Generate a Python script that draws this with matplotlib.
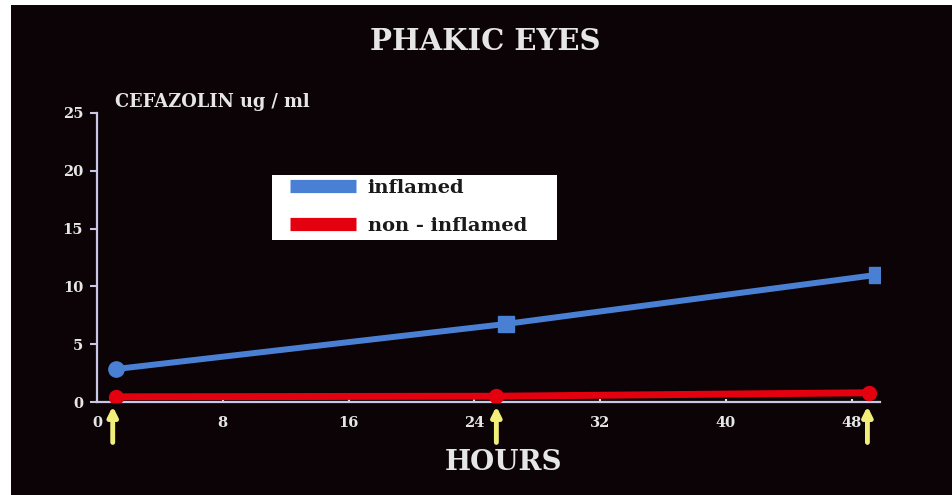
import matplotlib
matplotlib.use("Agg")
import matplotlib.pyplot as plt
from matplotlib.lines import Line2D
from matplotlib.patches import Rectangle

# data
hours_blue = [1.2, 26.0, 49.6]
inflamed = [2.85, 6.75, 11.0]
hours_red = [1.2, 25.4, 49.1]
non_inflamed = [0.45, 0.5, 0.8]
dose_hours = [1.0, 25.4, 49.0]
xticks = [0, 8, 16, 24, 32, 40, 48]
yticks = [0, 5, 10, 15, 20, 25]

blue = '#4a80d4'
red = '#e3000f'
txt = '#e6e6e6'
serif = ['DejaVu Serif']

fig = plt.figure(figsize=(9.52, 4.95), dpi=100, facecolor='white')
# black slide background with thin white border left/top
bg = Rectangle((11 / 952, 0), 1, 1 - 5 / 495, transform=fig.transFigure,
               facecolor='#0b0305', edgecolor='none', zorder=-10)
fig.add_artist(bg)

ax = fig.add_axes([97 / 952, 1 - 402 / 495, 783 / 952, 289 / 495])
ax.set_facecolor('none')

ax.plot(hours_blue, inflamed, color=blue, lw=4.3, solid_capstyle='round', zorder=3)
for x, y, m in zip(hours_blue, inflamed, ['o', 's', 's']):
    ax.plot(x, y, marker=m, ms=11, color=blue, zorder=4)
ax.plot(hours_red, non_inflamed, color=red, lw=5, solid_capstyle='round', zorder=3)
for x, y in zip(hours_red, non_inflamed):
    ax.plot(x, y, marker='o', ms=10, color=red, zorder=4)

ax.set_xlim(0, 49.8)
ax.set_ylim(0, 25)
ax.set_xticks(xticks)
ax.set_yticks(yticks)

for s in ['top', 'right']:
    ax.spines[s].set_visible(False)
for s in ['left', 'bottom']:
    ax.spines[s].set_color('#c9c6e6')
    ax.spines[s].set_linewidth(1.6)

ax.tick_params(axis='y', direction='out', length=5, width=1.5, color='#c9c6e6',
               labelcolor=txt, pad=5)
ax.tick_params(axis='x', direction='in', length=2, width=1.5, color='#e0e0e0',
               labelcolor=txt, pad=10)
for lab in ax.get_xticklabels() + ax.get_yticklabels():
    lab.set_fontfamily(serif)
    lab.set_fontweight('bold')
    lab.set_fontsize(10.5)

# yellow dosing arrows
for h in dose_hours:
    ax.annotate('', xy=(h, -0.015), xytext=(h, -0.14),
                xycoords=('data', 'axes fraction'),
                arrowprops=dict(arrowstyle='-|>', color='#f2ee7a', lw=3.5,
                                mutation_scale=14, shrinkA=0, shrinkB=0),
                annotation_clip=False)

fig.text(485 / 952, 1 - 42 / 495, 'PHAKIC EYES', ha='center', va='center',
         color=txt, fontsize=21, fontweight='bold', family=serif)
fig.text(115 / 952, 1 - 102 / 495, 'CEFAZOLIN ug / ml', ha='left', va='center',
         color=txt, fontsize=12.8, fontweight='bold', family=serif)
fig.text(504 / 952, 1 - 463 / 495, 'HOURS', ha='center', va='center',
         color=txt, fontsize=20, fontweight='bold', family=serif)

# white legend box (wider than the entries, as on the slide)
ax.add_patch(Rectangle((0.2235, 0.5606), 0.364, 0.2244, transform=ax.transAxes,
                       facecolor='white', edgecolor='none', zorder=5))
handles = [Line2D([], [], color=blue, lw=9.5, solid_capstyle='butt'),
           Line2D([], [], color=red, lw=9.5, solid_capstyle='butt')]
leg = ax.legend(handles, ['inflamed', 'non - inflamed'],
                loc='upper left', bbox_to_anchor=(0.2363, 0.80),
                borderaxespad=0, frameon=False,
                handlelength=3.4, handletextpad=0.6,
                labelspacing=1.05, borderpad=0.4,
                prop=dict(family=serif, weight='bold', size=14))
leg.set_zorder(6)
for t in leg.get_texts():
    t.set_color('#1a1a1a')

fig.savefig('out.png', dpi=100, facecolor='white')
